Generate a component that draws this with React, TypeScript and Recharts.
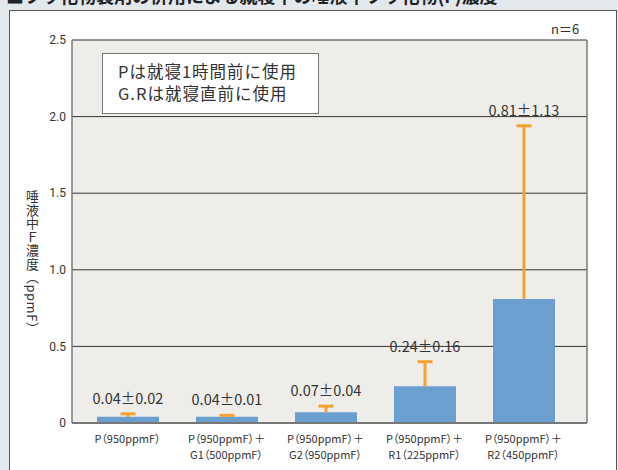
import React from "react";
import {
  BarChart,
  Bar,
  XAxis,
  YAxis,
  CartesianGrid,
  LabelList,
} from "recharts";

// 唾液中F濃度 (ppmF), n=6
const line1 = [
  "P（950ppmF）",
  "P（950ppmF）＋",
  "P（950ppmF）＋",
  "P（950ppmF）＋",
  "P（950ppmF）＋",
];
const line2 = ["", "G1（500ppmF）", "G2（950ppmF）", "R1（225ppmF）", "R2（450ppmF）"];
const categories = line1.map((l, i) => l + line2[i]);
const means = [0.04, 0.04, 0.07, 0.24, 0.81];
const sds = [0.02, 0.01, 0.04, 0.16, 1.13];
const yTicks = [0, 0.5, 1, 1.5, 2, 2.5];

const data = categories.map((name, i) => ({
  name,
  mean: means[i],
  sd: sds[i],
  label: `${means[i].toFixed(2)}±${sds[i].toFixed(2)}`,
}));

const BAR = "#6b9fd0";
const ORANGE = "#f5a033";
const JP = "'Noto Sans CJK JP', 'Noto Sans', sans-serif";
const NUM = "Roboto, 'Noto Sans', sans-serif";

// transparent stacked bar on top of the mean; drawn as an upper whisker
const Whisker = (props: any) => {
  const { x, y, width, height } = props;
  if (x == null || y == null) return null;
  const cx = x + width / 2;
  return (
    <g>
      <line x1={cx} x2={cx} y1={y + height} y2={y} stroke={ORANGE} strokeWidth={3} />
      <line x1={cx - 7.5} x2={cx + 7.5} y1={y} y2={y} stroke={ORANGE} strokeWidth={3} />
    </g>
  );
};

const CatTick = (props: any) => {
  const { x, y, payload } = props;
  const i = categories.indexOf(payload.value);
  const st = { fontFeatureSettings: "'palt'" } as any;
  return (
    <g>
      <text x={x} y={y} dy={18} textAnchor="middle" fontSize={11} fill="#333" fontFamily={JP} style={st}>
        {line1[i]}
      </text>
      {line2[i] && (
        <text x={x} y={y} dy={34} textAnchor="middle" fontSize={11} fill="#333" fontFamily={JP} style={st}>
          {line2[i]}
        </text>
      )}
    </g>
  );
};

export default function App() {
  return (
    <div
      style={{
        position: "absolute",
        left: 0,
        top: 0,
        width: 618,
        height: 470,
        overflow: "hidden",
        background: "#e3e8ed",
        fontFamily: JP,
      }}
    >
      <div
        style={{
          position: "absolute",
          left: 6,
          top: -18,
          fontSize: 18,
          fontWeight: "bold",
          color: "#222",
          whiteSpace: "nowrap",
        }}
      >
        ■フッ化物製剤の併用による就寝中の唾液中フッ化物(F)濃度
      </div>
      <div
        style={{
          position: "absolute",
          left: 9,
          top: 10,
          width: 606,
          height: 480,
          background: "#fff",
          border: "1.5px solid #555",
        }}
      />
      <div style={{ position: "absolute", left: 0, top: 0 }}>
        <BarChart
          width={618}
          height={470}
          data={data}
          margin={{ top: 40, right: 0, bottom: 0, left: 0 }}
          barSize={62}
        >
          <CartesianGrid vertical={false} stroke="#333" fill="#eeedea" />
          <XAxis
            dataKey="name"
            height={47}
            padding={{ left: 6, right: 14 }}
            tickLine={false}
            tickSize={0}
            axisLine={{ stroke: "#777", strokeWidth: 2 }}
            tick={<CatTick />}
            interval={0}
          />
          <YAxis
            width={72}
            domain={[0, 2.5]}
            ticks={yTicks}
            tickFormatter={(v: number) => (v === 0 ? "0" : v.toFixed(1))}
            tickLine={false}
            tickSize={0}
            tickMargin={6}
            axisLine={{ stroke: "#7a7a7a", strokeWidth: 1.5 }}
            tick={{ fontSize: 12, fill: "#333", fontFamily: NUM }}
          />
          <YAxis
            yAxisId="r"
            orientation="right"
            width={31}
            domain={[0, 2.5]}
            tick={false}
            tickLine={false}
            axisLine={{ stroke: "#7a7a7a", strokeWidth: 1.5 }}
          />
          <Bar dataKey="mean" stackId="a" fill={BAR} isAnimationActive={false} />
          <Bar dataKey="sd" stackId="a" shape={<Whisker />} isAnimationActive={false}>
            <LabelList
              dataKey="label"
              position="top"
              offset={10}
              fontSize={14.5}
              fill="#333"
              fontFamily={JP}
            />
          </Bar>
        </BarChart>
      </div>
      <div
        style={{
          position: "absolute",
          left: 102,
          top: 53,
          width: 200,
          height: 59,
          background: "#fff",
          border: "1px solid #777",
          paddingLeft: 15,
          boxSizing: "content-box",
          fontSize: 16.5,
          letterSpacing: 1,
          lineHeight: "22px",
          color: "#333",
          whiteSpace: "nowrap",
        }}
      >
        <div style={{ paddingTop: 6 }}>Pは就寝1時間前に使用</div>
        <div>G.Rは就寝直前に使用</div>
      </div>
      <div
        style={{
          position: "absolute",
          left: 551,
          top: 19,
          fontSize: 13,
          color: "#333",
        }}
      >
        n＝6
      </div>
      <div
        style={{
          position: "absolute",
          left: 23,
          top: 190,
          writingMode: "vertical-rl",
          textOrientation: "mixed",
          fontSize: 13,
          letterSpacing: 0.5,
          color: "#333",
        }}
      >
        唾液中Ｆ濃度（ppmF）
      </div>
    </div>
  );
}
